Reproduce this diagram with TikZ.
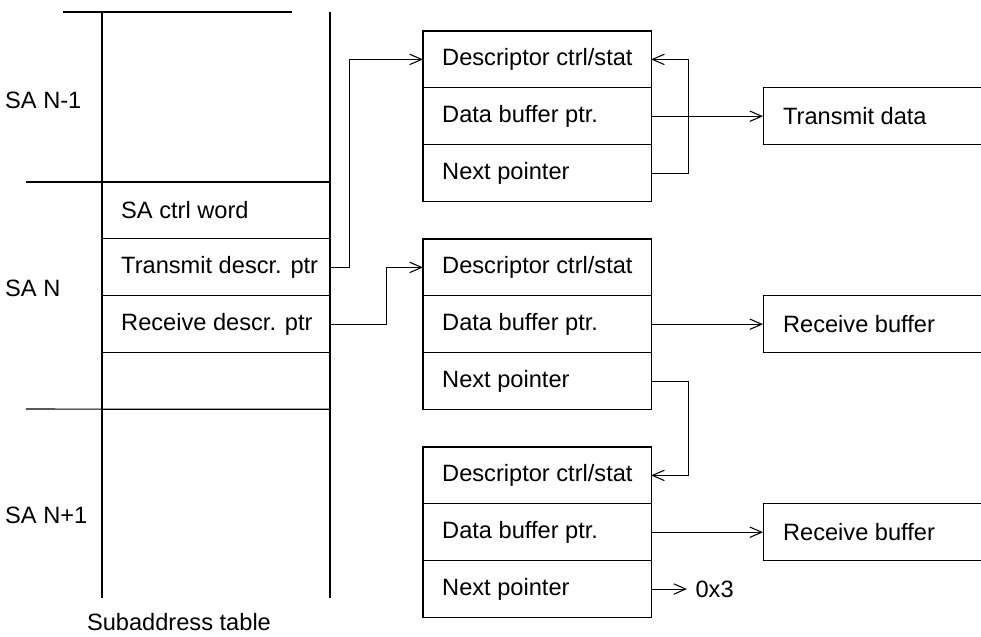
\documentclass[tikz,border=0pt]{standalone}
\usepackage{fontspec}
\setmainfont{Liberation Sans}
\usetikzlibrary{arrows.meta, positioning}

\begin{document}
\begin{tikzpicture}[
    x=0.025cm, y=-0.025cm,
    field/.style={draw, minimum height=1.42cm, inner xsep=0.48cm,
                  inner ysep=0pt, outer sep=0pt,
                  execute at begin node={\hbox to 4.74cm\bgroup
                    \spaceskip=\fontdimen2\font\relax},
                  execute at end node={\hfil\egroup}},
    buffer/.style={field, inner xsep=0.5cm},
    side/.style={anchor=west},
    line width=0.75pt,
    font=\fontsize{16.8}{20}\selectfont,
    >={Straight Barb[length=3mm, width=2.6mm]}
  ]
  \useasboundingbox (0,0) rectangle (981,637);
  \clip (0,0) rectangle (981,637);

  % Subaddress table
  \node[field, anchor=north west] (ctrl) at (102,182) {SA ctrl word};
  \node[field, below=0pt of ctrl] (txptr) {Transmit descr. ptr};
  \node[field, below=0pt of txptr] (rxptr) {Receive descr. ptr};
  \node[field, below=0pt of rxptr] (spare) {};

  \draw (63,12) -- (292,12);
  \draw (102,12) -- (102,598);
  \draw (330,12) -- (330,598);
  \draw (26,182) -- (ctrl.north east);
  \draw (26,409) -- (spare.south east);

  \node[side] (san1) at (0,100) {SA N-1};
  \node[side] (san) at (0,288) {SA N};
  \node[side] (san2) at (0,515) {SA N+1};
  \node[inner sep=2pt] (title) at (179,622) {Subaddress table};

  % Transmit descriptor
  \node[field, anchor=north west] (d1ctl) at (423,31) {Descriptor ctrl/stat};
  \node[field, below=0pt of d1ctl] (d1buf) {Data buffer ptr.};
  \node[field, below=0pt of d1buf] (d1next) {Next pointer};

  % Receive descriptors
  \node[field, anchor=north west] (d2ctl) at (423,239) {Descriptor ctrl/stat};
  \node[field, below=0pt of d2ctl] (d2buf) {Data buffer ptr.};
  \node[field, below=0pt of d2buf] (d2next) {Next pointer};

  \node[field, anchor=north west] (d3ctl) at (423,447) {Descriptor ctrl/stat};
  \node[field, below=0pt of d3ctl] (d3buf) {Data buffer ptr.};
  \node[field, below=0pt of d3buf] (d3next) {Next pointer};

  % Buffers
  \node[buffer, right=2.8cm of d1buf] (txdata) {Transmit data};
  \node[buffer, right=2.8cm of d2buf] (rxbuf1) {Receive buffer};
  \node[buffer, right=2.8cm of d3buf] (rxbuf2) {Receive buffer};
  \node[right=0.9cm of d3next, inner xsep=0.2cm] (nil) {0x3};

  % Pointers
  \draw[->] (txptr.east) -- ++(19,0) |- (d1ctl.west);
  \draw[->] (rxptr.east) -- ++(56,0) |- (d2ctl.west);
  \draw[->] (d1next.east) -- ++(37,0) |- (d1ctl.east);
  \draw[->] (d2next.east) -- ++(37,0) |- (d3ctl.east);
  \draw[->] (d1buf.east) -- (txdata.west);
  \draw[->] (d2buf.east) -- (rxbuf1.west);
  \draw[->] (d3buf.east) -- (rxbuf2.west);
  \draw[->] (d3next.east) -- (nil.west);
\end{tikzpicture}
\end{document}
